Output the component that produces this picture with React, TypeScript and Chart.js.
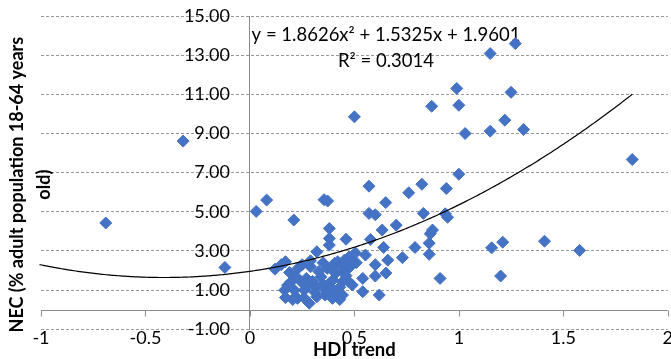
import React, { useEffect, useRef } from 'react';
import { Chart, registerables } from 'chart.js';

Chart.register(...registerables);

// HDI trend (x) and NEC (% adult population 18-64 years old) (y)
const hdiTrend: number[] = [
  -0.69, -0.32, -0.12, 0.03, 0.08, 0.21, 0.355, 0.372, 0.38, 0.38,
  0.38, 0.46, 0.32, 0.17, 0.12, 0.23, 0.29, 0.37, 0.42, 0.475,
  0.467, 0.27, 0.34, 0.41, 0.45, 0.317, 0.38, 0.443, 0.166, 0.213,
  0.26, 0.363, 0.42, 0.17, 0.228, 0.284, 0.32, 0.395, 0.443, 0.49,
  0.245, 0.197, 0.205, 0.43, 0.397, 0.397, 0.397, 0.405, 0.453, 0.505,
  0.50, 0.87, 0.99, 1.0, 1.15, 1.27, 1.25, 1.03, 1.15, 1.22,
  1.31, 1.83, 1.0, 0.94, 0.823, 0.76, 0.65, 0.57, 0.57, 0.60,
  0.83, 0.935, 0.946, 0.70, 0.633, 0.874, 0.863, 0.577, 0.64, 0.79,
  0.858, 0.858, 0.73, 0.66, 0.60, 0.553, 0.509, 1.157, 1.21, 1.41,
  1.578, 1.20, 0.91, 0.651, 0.60, 0.54, 0.46, 0.54, 0.619, 0.15,
  0.30, 0.35, 0.31, 0.25, 0.43, 0.36, 0.19, 0.47, 0.33, 0.28,
  0.22, 0.29, 0.39, 0.44, 0.26, 0.35, 0.18, 0.48,
];
const nec: number[] = [
  4.43, 8.61, 2.16, 5.02, 5.6, 4.58, 5.62, 5.55, 4.15, 3.64,
  3.3, 3.6, 2.96, 2.45, 2.07, 2.11, 2.19, 2.11, 2.45, 2.7,
  2.11, 1.6, 1.68, 1.86, 1.94, 1.17, 1.35, 1.43, 1.0, 1.0,
  1.0, 1.0, 0.92, 0.62, 0.58, 0.33, 0.66, 0.58, 0.75, 1.26,
  1.43, 1.43, 0.52, 0.52, 2.03, 1.52, 0.92, 2.37, 2.54, 2.9,
  9.85, 10.39, 11.3, 10.44, 13.08, 13.59, 11.1, 9.0, 9.12, 9.68,
  9.2, 7.67, 6.92, 6.19, 6.41, 5.97, 5.47, 6.31, 4.92, 4.85,
  4.92, 4.9, 4.72, 4.32, 4.07, 4.07, 3.88, 3.59, 3.18, 3.18,
  3.4, 2.83, 2.66, 2.53, 2.3, 2.79, 2.4, 3.16, 3.45, 3.5,
  3.03, 1.72, 1.6, 1.87, 1.72, 1.6, 1.74, 0.92, 0.75, 2.3,
  1.45, 2.4, 0.9, 2.3, 1.15, 0.75, 1.9, 1.45, 1.95, 1.25,
  1.7, 2.5, 1.1, 2.25, 0.6, 1.3, 1.25, 2.2,
];

// Polynomial trend line shown on the chart: y = a x^2 + b x + c
const trendCoefficients: number[] = [1.8626, 1.5325, 1.9601];
const trendRange: number[] = [-1.075, 1.83];
const equationText = 'y = 1.8626x² + 1.5325x + 1.9601';
const rSquaredText = 'R² = 0.3014';

const xAxisRange: number[] = [-1, 2, 0.5];
const yAxisRange: number[] = [-1, 15, 2];
const xTitle = 'HDI trend';
const yTitleLines: string[] = ['NEC (% adult population 18-64 years', 'old)'];

const BLUE = '#4472C4';
const AXIS_GREY = '#8C8C8C';
const FONT = 'Lato';

const annotationPlugin = {
  id: 'annotationText',
  beforeDatasetsDraw(chart: any) {
    const ctx = chart.ctx as CanvasRenderingContext2D;
    const area = chart.chartArea;
    const xs = chart.scales.x;
    const ys = chart.scales.y;
    ctx.save();

    // horizontal axis line crossing at y = 0, with tick marks below it
    const y0 = Math.round(ys.getPixelForValue(0)) + 0.5;
    ctx.strokeStyle = AXIS_GREY;
    ctx.lineWidth = 1;
    ctx.beginPath();
    ctx.moveTo(area.left, y0);
    ctx.lineTo(area.right, y0);
    xs.ticks.forEach((t: any) => {
      const px = Math.round(xs.getPixelForValue(t.value)) + 0.5;
      ctx.moveTo(px, y0);
      ctx.lineTo(px, y0 + 6);
    });
    ctx.stroke();

    // vertical-axis tick labels, placed next to the axis at x = 0
    const x0 = xs.getPixelForValue(0);
    ctx.fillStyle = '#000';
    ctx.font = `18px ${FONT}`;
    ctx.textAlign = 'right';
    ctx.textBaseline = 'middle';
    ys.ticks.forEach((t: any) => {
      ctx.fillText(Number(t.value).toFixed(2), x0 - 20, ys.getPixelForValue(t.value));
    });

    // trend line equation
    ctx.font = `18.5px ${FONT}`;
    ctx.textAlign = 'center';
    const cx = area.left + 345;
    ctx.fillText(equationText, cx, area.top + 19);
    ctx.fillText(rSquaredText, cx, area.top + 45);
    ctx.restore();
  },
  afterDraw(chart: any) {
    const ctx = chart.ctx as CanvasRenderingContext2D;
    const area = chart.chartArea;
    ctx.save();
    ctx.fillStyle = '#000';
    ctx.font = `bold 18px ${FONT}`;
    ctx.textAlign = 'center';
    ctx.textBaseline = 'alphabetic';
    ctx.translate(23, (area.top + area.bottom) / 2 + 12);
    ctx.rotate(-Math.PI / 2);
    yTitleLines.forEach((line, i) => ctx.fillText(line, 0, i * 27));
    ctx.restore();
  },
};

export default function App() {
  const canvasRef = useRef<HTMLCanvasElement | null>(null);

  useEffect(() => {
    const canvas = canvasRef.current;
    if (!canvas) return;

    const points = hdiTrend.map((x, i) => ({ x, y: nec[i] }));
    const trendPoints: { x: number; y: number }[] = [];
    const [a, b, c] = trendCoefficients;
    const steps = 300;
    for (let i = 0; i <= steps; i++) {
      const x = trendRange[0] + ((trendRange[1] - trendRange[0]) * i) / steps;
      trendPoints.push({ x, y: a * x * x + b * x + c });
    }

    const chart = new Chart(canvas, {
      type: 'scatter',
      data: {
        datasets: [
          {
            label: 'Poly. trend',
            data: trendPoints,
            showLine: true,
            pointRadius: 0,
            borderColor: '#000',
            borderWidth: 1.2,
            tension: 0,
            clip: false as any,
            order: 0,
          } as any,
          {
            label: 'NEC',
            data: points,
            pointStyle: 'rectRot',
            pointRadius: 6,
            pointBackgroundColor: BLUE,
            pointBorderColor: BLUE,
            pointBorderWidth: 1,
            order: 1,
          } as any,
        ],
      },
      options: {
        responsive: false,
        animation: false,
        devicePixelRatio: 1,
        layout: {
          autoPadding: false,
          padding: { left: 41, right: 1, top: 16, bottom: 0 },
        } as any,
        plugins: {
          legend: { display: false },
          tooltip: { enabled: false },
        },
        scales: {
          x: {
            type: 'linear',
            position: 'bottom',
            min: xAxisRange[0],
            max: xAxisRange[1],
            grid: { display: false, drawTicks: false },
            border: { display: false },
            ticks: {
              stepSize: xAxisRange[2],
              autoSkip: false,
              maxRotation: 0,
              padding: -2,
              color: '#000',
              font: { family: FONT, size: 18 },
              callback: (v: any) => String(v),
            },
            title: {
              display: true,
              text: xTitle,
              color: '#000',
              font: { family: FONT, size: 18.5, weight: 'bold', lineHeight: 1 },
              padding: { top: 0, bottom: 0 },
            },
            afterFit: (s: any) => {
              s.height = 29.7;
            },
          } as any,
          y: {
            type: 'linear',
            axis: 'y',
            position: { x: 0 },
            min: yAxisRange[0],
            max: yAxisRange[1],
            grid: {
              display: true,
              drawTicks: false,
              color: '#999999',
              lineWidth: 1,
            },
            border: { display: true, color: AXIS_GREY, width: 1, dash: [3, 2] },
            ticks: {
              stepSize: yAxisRange[2],
              display: false,
            },
          } as any,
        },
      },
      plugins: [annotationPlugin],
    });

    return () => chart.destroy();
  }, []);

  return (
    <div style={{ position: 'absolute', left: 0, top: 0, width: 671, height: 359, background: '#fff' }}>
      <canvas ref={canvasRef} width={671} height={359} style={{ display: 'block' }} />
    </div>
  );
}
